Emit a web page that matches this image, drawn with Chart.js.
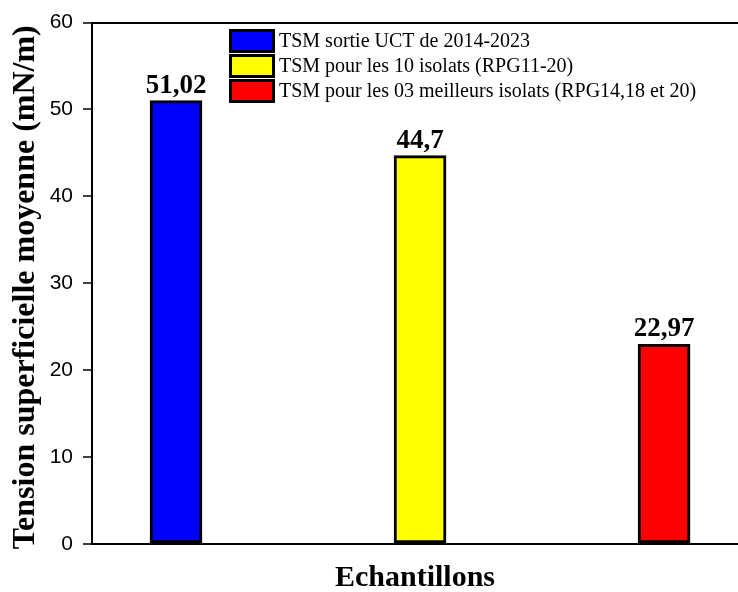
<!DOCTYPE html>
<html><head><meta charset="utf-8">
<script src="https://cdn.jsdelivr.net/npm/chart.js@4/dist/chart.umd.min.js"></script>
<style>html,body{margin:0;padding:0;background:#fff}canvas{display:block}</style>
</head><body>
<canvas id="c" width="738" height="592"></canvas>
<script>
const categories = ['TSM sortie UCT de 2014-2023', 'TSM pour les 10 isolats (RPG11-20)', 'TSM pour les 03 meilleurs isolats (RPG14,18 et 20)'];
const positions = [1, 2, 3];
const values = [51.02, 44.7, 22.97];
const valueLabels = ['51,02', '44,7', '22,97'];
const barColors = ['#0000ff', '#ffff00', '#ff0000'];
const yTicks = [0, 10, 20, 30, 40, 50, 60];
const xTitle = 'Echantillons';
const yTitle = 'Tension superficielle moyenne (mN/m) ';

const valueLabelPlugin = {
  id: 'valueLabels',
  afterDatasetsDraw(chart) {
    const ctx = chart.ctx;
    const meta = chart.getDatasetMeta(0);
    ctx.save();
    ctx.font = 'bold 27px "Liberation Serif", "Times New Roman", serif';
    ctx.fillStyle = '#000';
    ctx.textAlign = 'center';
    ctx.textBaseline = 'alphabetic';
    meta.data.forEach((el, i) => {
      ctx.fillText(valueLabels[i], el.x, el.y - 8);
    });
    ctx.restore();
  }
};

const boxLegendPlugin = {
  id: 'boxLegend',
  afterDraw(chart, args, opts) {
    const ctx = chart.ctx;
    ctx.save();
    ctx.font = opts.font;
    ctx.textBaseline = 'middle';
    ctx.textAlign = 'left';
    categories.forEach((label, i) => {
      const top = opts.y + i * opts.step;
      ctx.fillStyle = '#000';
      ctx.fillRect(opts.x, top, opts.boxWidth, opts.boxHeight);
      ctx.fillStyle = barColors[i];
      ctx.fillRect(opts.x + opts.border, top + opts.border, opts.boxWidth - 2 * opts.border, opts.boxHeight - 2 * opts.border);
      ctx.fillStyle = '#000';
      ctx.fillText(label, opts.x + opts.boxWidth + opts.gap, top + opts.boxHeight / 2 + 1);
    });
    ctx.restore();
  }
};

new Chart(document.getElementById('c'), {
  type: 'bar',
  data: {
    labels: categories,
    datasets: [{
      label: 'TSM',
      data: positions.map((x, i) => ({ x: x, y: values[i] })),
      backgroundColor: barColors,
      borderColor: '#000',
      borderWidth: 3,
      borderSkipped: false,
      barThickness: 52
    }]
  },
  options: {
    responsive: false,
    animation: false,
    events: [],
    layout: { padding: { top: 20, left: 0, right: 0, bottom: 0 } },
    plugins: {
      legend: { display: false },
      tooltip: { enabled: false },
      boxLegend: {
        x: 229, y: 29, step: 25, boxWidth: 46, boxHeight: 24, border: 3, gap: 4,
        font: '20px "Liberation Serif", "Times New Roman", serif'
      }
    },
    scales: {
      x: {
        type: 'linear',
        offset: false,
        min: 0.6557,
        max: 3.303,
        ticks: { display: false },
        grid: { display: false },
        border: { display: true, color: '#000', width: 2 },
        title: {
          display: true,
          text: xTitle,
          color: '#000',
          font: { family: '"Liberation Serif", "Times New Roman", serif', size: 30, weight: 'bold' },
          padding: { top: 0, bottom: -4 }
        },
        afterFit(scale) { scale.height = 48; }
      },
      y: {
        min: 0,
        max: 60,
        afterBuildTicks(scale) { scale.ticks = yTicks.map(v => ({ value: v })); },
        ticks: {
          color: '#000',
          padding: 10,
          font: { family: '"Liberation Sans", Arial, sans-serif', size: 21 }
        },
        grid: {
          drawOnChartArea: true,
          color: (c) => (c.tick && c.tick.value === 60 ? '#000' : 'rgba(0,0,0,0)'),
          lineWidth: 2,
          tickColor: '#000',
          tickWidth: 1.5,
          tickLength: 9
        },
        border: { display: true, color: '#000', width: 2 },
        title: {
          display: true,
          text: yTitle,
          color: '#000',
          font: { family: '"Liberation Serif", "Times New Roman", serif', size: 32, weight: 'bold' },
          padding: { top: 7, bottom: 0 }
        },
        afterFit(scale) { scale.width = 92; }
      }
    }
  },
  plugins: [valueLabelPlugin, boxLegendPlugin]
});
</script>
</body></html>
